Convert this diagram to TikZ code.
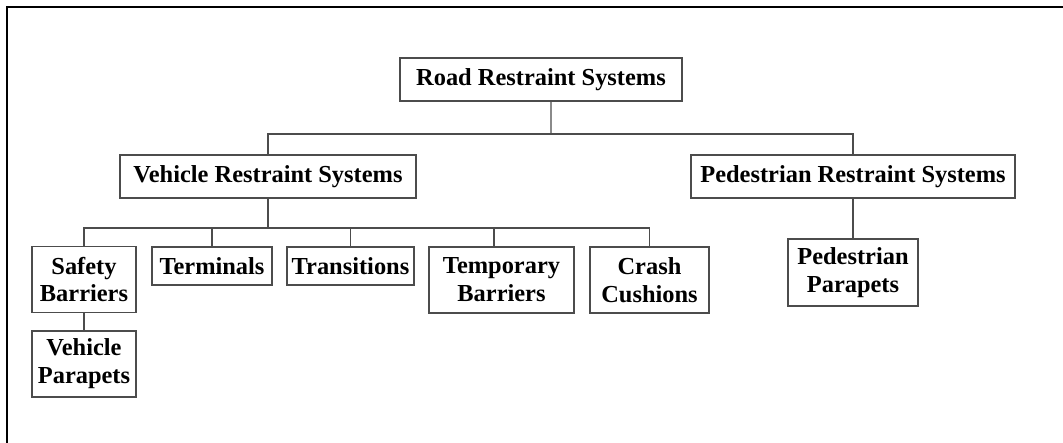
\documentclass[tikz,border=0pt]{standalone}
\usepackage{fontspec}
\setmainfont{Liberation Serif}
\usetikzlibrary{positioning,calc}

\begin{document}
\begin{tikzpicture}[
  x=0.02cm, y=-0.02cm,
  font=\fontsize{13.9}{15.9}\selectfont\bfseries,
  box/.style={draw=black!70, line width=0.7pt, align=center, inner sep=0pt},
  one/.style={box, minimum height=0.86cm},
  low/.style={box, minimum height=0.76cm},
  two/.style={box, minimum height=1.32cm},
  link/.style={draw=black!70, line width=0.6pt}]

\useasboundingbox (0,0) rectangle (1063,443);
% frame
\draw[line width=1.1pt] (7,443) -- (7,7) -- (1063,7);

% ===== top levels =====
\node[one, minimum width=5.64cm] (road) at (541,79.5)  {Road Restraint Systems};
\node[one, minimum width=5.92cm] (vrs)  at (268,176.5) {Vehicle Restraint Systems};
\node[one, minimum width=6.48cm] (prs)  at (853,176.5) {Pedestrian Restraint Systems};

% ===== vehicle children =====
\node[two, minimum width=2.08cm] (safe)  at (84,279.5)  {Safety\\Barriers};
\node[low, minimum width=2.40cm] (term)  at (212,266)   {Terminals};
\node[low, minimum width=2.54cm] (trans) at (350.5,266) {Transitions};
\node[two, minimum width=2.90cm] (temp)  at (501.5,280) {Temporary\\Barriers};
\node[two, minimum width=2.38cm] (crash) at (649.5,280) {Crash\\Cushions};
\node[two, minimum width=2.08cm] (vpar)  at (84,364)    {Vehicle\\Parapets};

% ===== pedestrian child =====
\node[two, minimum width=2.60cm, minimum height=1.34cm] (ppar) at (853,272.5) {Pedestrian\\Parapets};

% ===== edges =====
\coordinate (j1) at (551,134);
\coordinate (j2) at (268,228);
\draw[link] ([xshift=0.2cm]road.south) -- (j1);
\draw[link] (vrs.north) |- (j1) -| (prs.north);
\draw[link] (vrs.south) -- (j2);
\draw[link] (safe.north) |- (j2) -| (crash.north);
\draw[link] (term.north) -- (term.north |- j2);
\draw[link] (trans.north) -- (trans.north |- j2);
\draw[link] ([xshift=-0.15cm]temp.north) -- ([xshift=-0.15cm]temp.north |- j2);
\draw[link] (safe.south) -- (vpar.north);
\draw[link] (prs.south) -- (ppar.north);

\end{tikzpicture}
\end{document}
